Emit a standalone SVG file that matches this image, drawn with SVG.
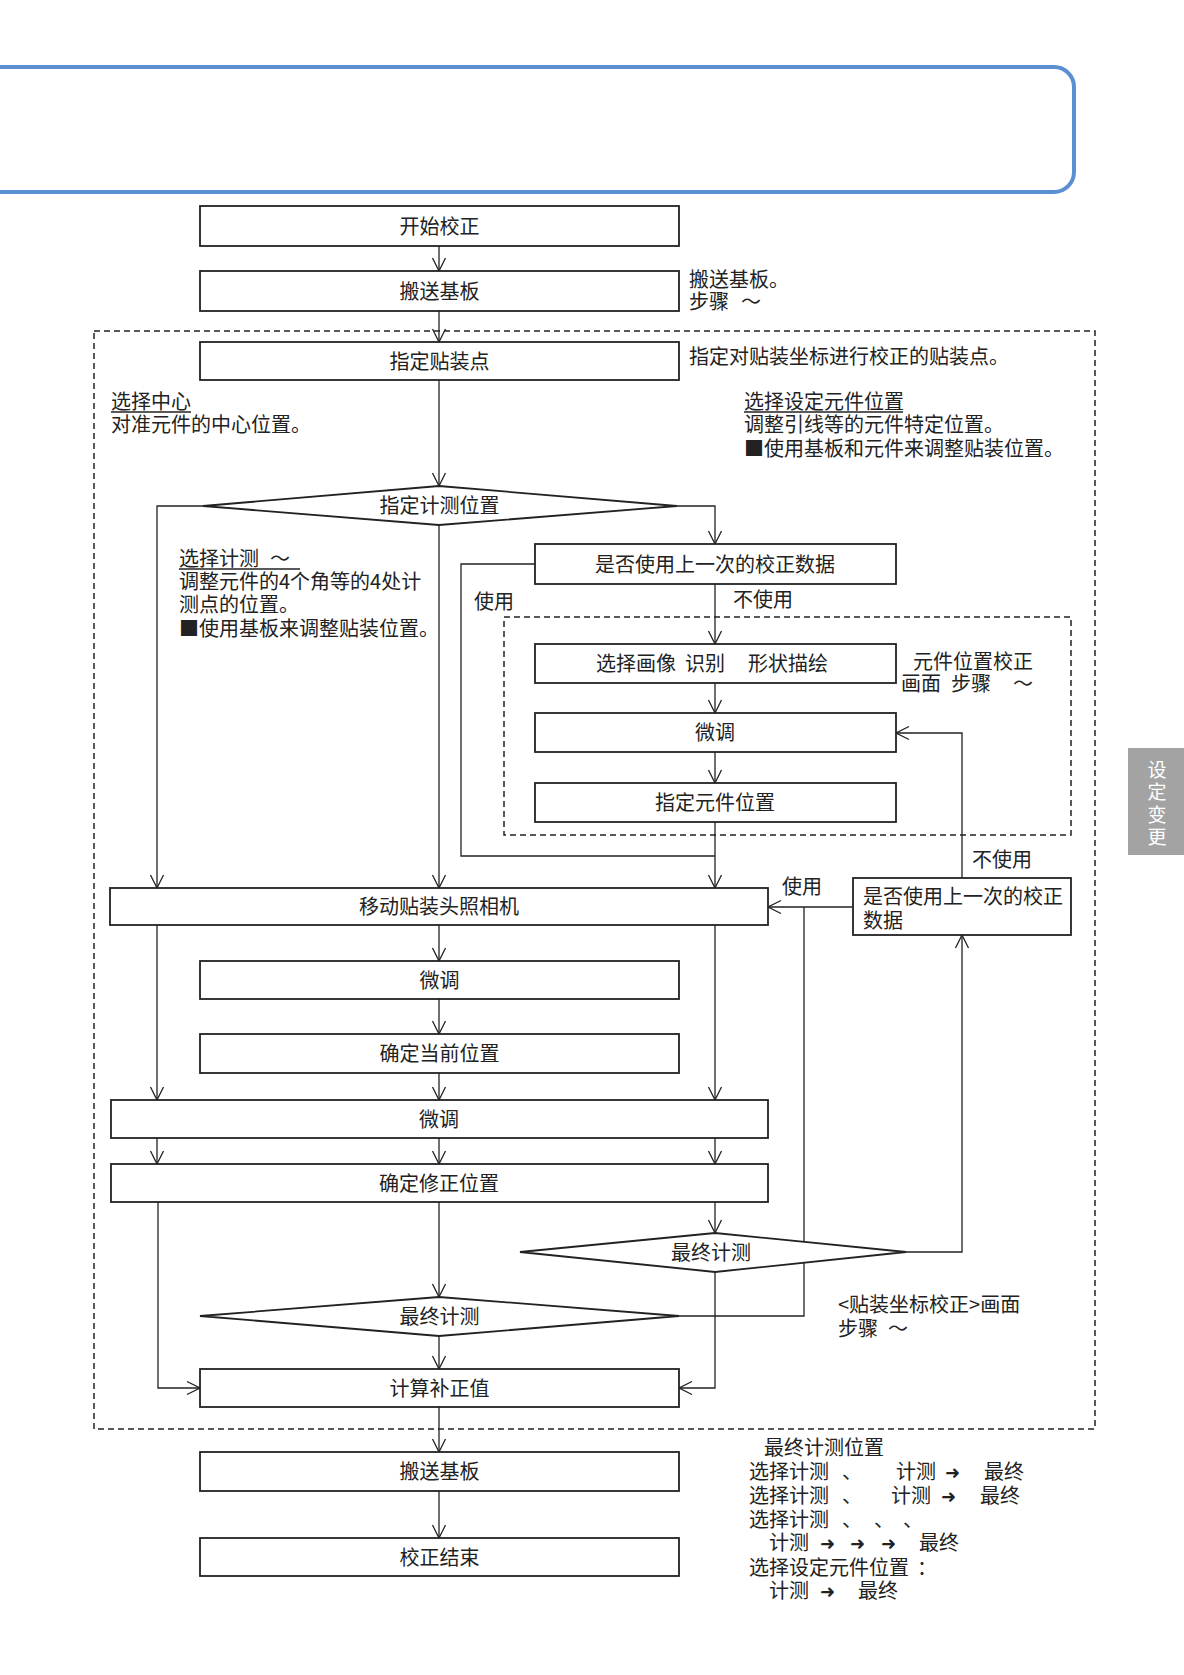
<svg xmlns="http://www.w3.org/2000/svg" width="1184" height="1675" viewBox="0 0 1184 1675">
<style>
text{font-family:"Noto Sans CJK SC","Noto Sans CJK JP",sans-serif;font-size:20px;fill:#222}
.c{text-anchor:middle}
.box{fill:#fff;stroke:#222;stroke-width:1.8}
.ln{fill:none;stroke:#222;stroke-width:1.3}
.ar{marker-end:url(#ah)}
.dash{fill:none;stroke:#222;stroke-width:1.5;stroke-dasharray:6 4}
.ul{stroke:#222;stroke-width:1.3}
.tab{font-size:19px;fill:#fff;writing-mode:vertical-rl;letter-spacing:3.5px}
.arw{font-family:"DejaVu Sans",sans-serif;font-weight:bold;font-size:18px}
</style>
<defs>
<marker id="ah" markerUnits="userSpaceOnUse" viewBox="-15 -8 16 16" markerWidth="16" markerHeight="16" refX="0" refY="0" orient="auto">
<path d="M-13,-6.5 L0,0 L-13,6.5" fill="none" stroke="#222" stroke-width="1.3"/>
</marker>
</defs>
<rect width="1184" height="1675" fill="#fff"/>
<rect x="-30" y="67" width="1104" height="125" rx="20" fill="none" stroke="#5b8fd1" stroke-width="4"/>
<g id="tab"><rect x="1128" y="748" width="56" height="107" fill="#a3a3a3"/>
<text class="tab" x="1157" y="760">设定变更</text></g>
<rect class="dash" x="94" y="331" width="1001" height="1098"/>
<rect class="dash" x="504" y="617" width="567" height="218"/>
<g id="connectors">
<line class="ln ar" x1="439" y1="246" x2="439" y2="271"/>
<line class="ln ar" x1="439" y1="311" x2="439" y2="342"/>
<line class="ln ar" x1="439" y1="380" x2="439" y2="486"/>
<polyline class="ln ar" points="203,506 157,506 157,888"/>
<polyline class="ln ar" points="677,506 715,506 715,544"/>
<line class="ln ar" x1="439" y1="525" x2="439" y2="888"/>
<polyline class="ln" points="535,564 461,564 461,856 715,856"/>
<line class="ln ar" x1="715" y1="822" x2="715" y2="888"/>
<line class="ln ar" x1="715" y1="584" x2="715" y2="644"/>
<line class="ln ar" x1="715" y1="683" x2="715" y2="713"/>
<line class="ln ar" x1="715" y1="752" x2="715" y2="783"/>
<polyline class="ln ar" points="962,878 962,733 896,733"/>
<polyline class="ln ar" points="906,1252 962,1252 962,935"/>
<line class="ln ar" x1="853" y1="907" x2="768" y2="907"/>
<polyline class="ln" points="679,1316 804,1316 804,907"/>
<line class="ln ar" x1="157" y1="925" x2="157" y2="1100"/>
<line class="ln ar" x1="439" y1="925" x2="439" y2="961"/>
<line class="ln ar" x1="715" y1="925" x2="715" y2="1100"/>
<line class="ln ar" x1="439" y1="999" x2="439" y2="1034"/>
<line class="ln ar" x1="439" y1="1073" x2="439" y2="1100"/>
<line class="ln ar" x1="157" y1="1138" x2="157" y2="1164"/>
<line class="ln ar" x1="439" y1="1138" x2="439" y2="1164"/>
<line class="ln ar" x1="715" y1="1138" x2="715" y2="1164"/>
<polyline class="ln ar" points="158,1202 158,1388 200,1388"/>
<line class="ln ar" x1="439" y1="1202" x2="439" y2="1297"/>
<line class="ln ar" x1="715" y1="1202" x2="715" y2="1233"/>
<polyline class="ln ar" points="715,1272 715,1388 679,1388"/>
<line class="ln ar" x1="439" y1="1336" x2="439" y2="1369"/>
<line class="ln ar" x1="439" y1="1407" x2="439" y2="1452"/>
<line class="ln ar" x1="439" y1="1491" x2="439" y2="1538"/>
</g>
<g id="n1"><rect class="box" x="200" y="206" width="479" height="40"/><text class="c" x="439.5" y="233.5">开始校正</text></g>
<g id="n2"><rect class="box" x="200" y="271" width="479" height="40"/><text class="c" x="439.5" y="298.5">搬送基板</text></g>
<g id="n3"><rect class="box" x="200" y="342" width="479" height="38"/><text class="c" x="439.5" y="368.5">指定贴装点</text></g>
<g id="d1"><polygon class="box" points="439,486 677,506 439,525 203,506"/><text class="c" x="439.5" y="512.5">指定计测位置</text></g>
<g id="n4"><rect class="box" x="535" y="544" width="361" height="40"/><text class="c" x="715" y="571.5">是否使用上一次的校正数据</text></g>
<g id="n5"><rect class="box" x="535" y="644" width="361" height="39"/><text y="670.5"><tspan x="596">选择画像</tspan><tspan x="685">识别</tspan><tspan x="748">形状描绘</tspan></text></g>
<g id="n6"><rect class="box" x="535" y="713" width="361" height="39"/><text class="c" x="715" y="740">微调</text></g>
<g id="n7"><rect class="box" x="535" y="783" width="361" height="39"/><text class="c" x="715" y="810">指定元件位置</text></g>
<g id="n8"><rect class="box" x="853" y="878" width="218" height="57"/><text x="863" y="904">是否使用上一次的校正</text><text x="863" y="928">数据</text></g>
<g id="n9"><rect class="box" x="110" y="888" width="658" height="37"/><text class="c" x="439" y="914">移动贴装头照相机</text></g>
<g id="n10"><rect class="box" x="200" y="961" width="479" height="38"/><text class="c" x="439.5" y="987.5">微调</text></g>
<g id="n11"><rect class="box" x="200" y="1034" width="479" height="39"/><text class="c" x="439.5" y="1061">确定当前位置</text></g>
<g id="n12"><rect class="box" x="111" y="1100" width="657" height="38"/><text class="c" x="439" y="1126.5">微调</text></g>
<g id="n13"><rect class="box" x="111" y="1164" width="657" height="38"/><text class="c" x="439" y="1190.5">确定修正位置</text></g>
<g id="d2"><polygon class="box" points="715,1233 906,1252 715,1272 520,1252"/><text class="c" x="711" y="1259.5">最终计测</text></g>
<g id="d3"><polygon class="box" points="439,1297 679,1316 439,1336 200,1316"/><text class="c" x="439.5" y="1323.5">最终计测</text></g>
<g id="n14"><rect class="box" x="200" y="1369" width="479" height="38"/><text class="c" x="439.5" y="1395.5">计算补正值</text></g>
<g id="n15"><rect class="box" x="200" y="1452" width="479" height="39"/><text class="c" x="439.5" y="1478.5">搬送基板</text></g>
<g id="n16"><rect class="box" x="200" y="1538" width="479" height="38"/><text class="c" x="439.5" y="1564.5">校正结束</text></g>
<g id="notes">
<text x="689" y="287">搬送基板。</text>
<text y="309"><tspan x="689">步骤</tspan><tspan x="741">～</tspan></text>
<text x="689" y="364">指定对贴装坐标进行校正的贴装点。</text>
<text x="744" y="409">选择设定元件位置</text><line class="ul" x1="744" y1="412" x2="903" y2="412"/>
<text x="744" y="432">调整引线等的元件特定位置。</text>
<text x="744" y="456">■使用基板和元件来调整贴装位置。</text>
<text x="111" y="409">选择中心</text><line class="ul" x1="111" y1="412" x2="191" y2="412"/>
<text x="111" y="432">对准元件的中心位置。</text>
<text y="566"><tspan x="179">选择计测</tspan><tspan x="270">～</tspan></text><line class="ul" x1="179" y1="569" x2="300" y2="569"/>
<text x="179" y="589">调整元件的4个角等的4处计</text>
<text x="179" y="612">测点的位置。</text>
<text x="179" y="636">■使用基板来调整贴装位置。</text>
<text x="474" y="609">使用</text>
<text x="733" y="607">不使用</text>
<text x="913" y="669">元件位置校正</text>
<text y="691"><tspan x="901">画面</tspan><tspan x="951">步骤</tspan><tspan x="1013">～</tspan></text>
<text x="972" y="867">不使用</text>
<text x="782" y="894">使用</text>
<text x="838" y="1312">&lt;贴装坐标校正&gt;画面</text>
<text y="1336"><tspan x="838">步骤</tspan><tspan x="888">～</tspan></text>
<text x="764" y="1455">最终计测位置</text>
<text y="1479"><tspan x="749">选择计测</tspan><tspan x="842">、</tspan><tspan x="896">计测</tspan><tspan class="arw" x="945">➜</tspan><tspan x="984">最终</tspan></text>
<text y="1503"><tspan x="749">选择计测</tspan><tspan x="842">、</tspan><tspan x="891">计测</tspan><tspan class="arw" x="941">➜</tspan><tspan x="980">最终</tspan></text>
<text y="1527"><tspan x="749">选择计测</tspan><tspan x="842">、</tspan><tspan x="874">、</tspan><tspan x="903">、</tspan></text>
<text y="1550"><tspan x="769">计测</tspan><tspan class="arw" x="820">➜</tspan><tspan class="arw" x="850">➜</tspan><tspan class="arw" x="881">➜</tspan><tspan x="919">最终</tspan></text>
<text y="1575"><tspan x="749">选择设定元件位置</tspan><tspan x="917">：</tspan></text>
<text y="1598"><tspan x="769">计测</tspan><tspan class="arw" x="820">➜</tspan><tspan x="858">最终</tspan></text>
</g>
</svg>
